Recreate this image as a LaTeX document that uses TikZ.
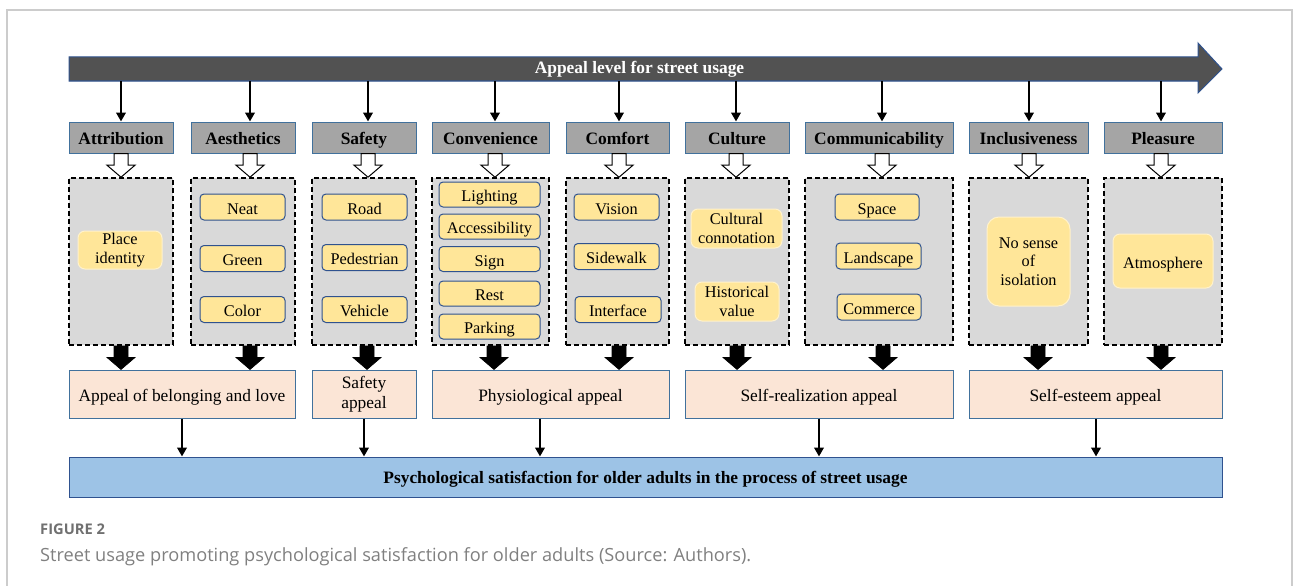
\documentclass[tikz,border=0pt]{standalone}
\usepackage{fontspec}
\setmainfont{Liberation Serif}
\newfontfamily\capfont{Open Sans}
\usetikzlibrary{calc,arrows.meta}

\definecolor{barfill}{HTML}{525252}
\definecolor{darkline}{HTML}{2F528F}
\definecolor{hdrline}{HTML}{41719C}
\definecolor{hdrfill}{HTML}{A5A5A5}
\definecolor{grpfill}{HTML}{D9D9D9}
\definecolor{itemfill}{HTML}{FFE699}
\definecolor{softline}{HTML}{FFF2CC}
\definecolor{appfill}{HTML}{FBE5D6}
\definecolor{endfill}{HTML}{9DC3E6}
\definecolor{framecol}{HTML}{CCCCCC}
\definecolor{capgray}{HTML}{808080}
\definecolor{figgray}{HTML}{707070}

\tikzset{
  hdrbox/.style={draw=hdrline, fill=hdrfill, line width=1pt, minimum height=31pt, inner sep=0pt,
    text height=13pt, text depth=0pt, font=\fontsize{17.4}{19}\selectfont\bfseries},
  grpbox/.style={draw=black, fill=grpfill, line width=1.6pt, dash pattern=on 5pt off 3pt,
    minimum height=167pt, inner sep=0pt},
  cellbox/.style={draw=darkline, fill=itemfill, line width=1pt, rounded corners=4pt, inner sep=0pt,
    align=center, font=\fontsize{16.3}{18.3}\selectfont},
  itembox/.style={cellbox, text height=14pt, text depth=0pt},
  softbox/.style={cellbox, draw=softline, rounded corners=7pt},
  appbox/.style={draw=hdrline, fill=appfill, line width=1pt, minimum height=48pt, inner sep=0pt,
    align=center, font=\fontsize{17.4}{20}\selectfont},
  onerow/.style={text height=14pt, text depth=0pt},
  endbox/.style={draw=darkline, fill=endfill, line width=1pt, minimum height=40pt, inner sep=0pt,
    text height=12pt, text depth=0pt, font=\fontsize{17.4}{19}\selectfont\bfseries},
  link/.style={line width=2.6pt, -{Triangle[width=9.5pt,length=9pt]}},
  hollowarr/.style={draw=black, fill=white, line width=1pt},
  solidarr/.style={draw=black, fill=black, line width=0.6pt}
}

% block arrow between two named nodes, shifted by #4
\newcommand{\blockarrow}[4]{%
  \draw[#1] let \p1=($(#2.south)+(#4,0)$), \p2=(#3.north) in
    (\x1-7,\y1) -- (\x1+7,\y1) -- (\x1+7,\y2+12) -- (\x1+14,\y2+12)
    -- (\x1,\y2) -- (\x1-14,\y2+12) -- (\x1-7,\y2+12) -- cycle;}

\begin{document}
\begin{tikzpicture}[x=1pt,y=-1pt]
\useasboundingbox (0,0) rectangle (1293,586);

% frame
\draw[framecol, line width=1.3pt] (7,586) -- (7,10) -- (1292,10) -- (1292,586);

% top arrow
\draw[darkline, fill=barfill, line width=1pt] (69,57) -- (1198,57) -- (1198,43) -- (1222,69)
  -- (1198,93) -- (1198,81) -- (69,81) -- cycle;
\node[text=white, font=\fontsize{17.4}{19}\selectfont\bfseries, minimum height=24pt, inner sep=0pt,
  text height=10pt, text depth=0pt] (bar) at (639.5,69) {Appeal level for street usage};

% headers
\node[hdrbox, minimum width=104pt] (attr) at (121,137.5) {Attribution};
\node[hdrbox, minimum width=104pt] (aest) at (243,137.5) {Aesthetics};
\node[hdrbox, minimum width=104pt] (safe) at (364,137.5) {Safety};
\node[hdrbox, minimum width=117pt] (conv) at (490.5,137.5) {Convenience};
\node[hdrbox, minimum width=103pt] (comf) at (617.5,137.5) {Comfort};
\node[hdrbox, minimum width=104pt] (cult) at (737,137.5) {Culture};
\node[hdrbox, minimum width=148pt] (comm) at (879,137.5) {Communicability};
\node[hdrbox, minimum width=119pt] (incl) at (1028.5,137.5) {Inclusiveness};
\node[hdrbox, minimum width=118pt] (plea) at (1163,137.5) {Pleasure};

% dashed groups
\node[grpbox, minimum width=104pt] (gattr) at (121,261.5) {};
\node[grpbox, minimum width=104pt] (gaest) at (243,261.5) {};
\node[grpbox, minimum width=104pt] (gsafe) at (364,261.5) {};
\node[grpbox, minimum width=117pt] (gconv) at (490.5,261.5) {};
\node[grpbox, minimum width=103pt] (gcomf) at (617.5,261.5) {};
\node[grpbox, minimum width=104pt] (gcult) at (737,261.5) {};
\node[grpbox, minimum width=148pt] (gcomm) at (879,261.5) {};
\node[grpbox, minimum width=119pt] (gincl) at (1028.5,261.5) {};
\node[grpbox, minimum width=118pt] (gplea) at (1163,261.5) {};

% items
\node[softbox, minimum width=84pt, minimum height=38pt] (place) at (120,250) {Place\\identity};

\node[itembox, minimum width=85pt, minimum height=26pt] (neat) at (242.5,207) {Neat};
\node[itembox, minimum width=85pt, minimum height=26pt] (green) at (242.5,258.5) {Green};
\node[itembox, minimum width=85pt, minimum height=26pt] (color) at (242.5,309.5) {Color};

\node[itembox, minimum width=85pt, minimum height=26pt] (road) at (364.5,207) {Road};
\node[itembox, minimum width=85pt, minimum height=26pt] (ped) at (364.5,257.5) {Pedestrian};
\node[itembox, minimum width=85pt, minimum height=26pt] (veh) at (364.5,309.5) {Vehicle};

\node[itembox, minimum width=101pt, minimum height=25pt] (light) at (489.5,194.5) {Lighting};
\node[itembox, minimum width=101pt, minimum height=25pt] (access) at (489.5,226.5) {Accessibility};
\node[itembox, minimum width=101pt, minimum height=25pt] (sign) at (489.5,259) {Sign};
\node[itembox, minimum width=101pt, minimum height=25pt] (rest) at (489.5,293.5) {Rest};
\node[itembox, minimum width=101pt, minimum height=25pt] (park) at (489.5,326.5) {Parking};

\node[itembox, minimum width=85pt, minimum height=26pt] (vision) at (616.5,207) {Vision};
\node[itembox, minimum width=85pt, minimum height=26pt] (side) at (616.5,256.5) {Sidewalk};
\node[itembox, minimum width=86pt, minimum height=26pt] (inter) at (618,309.5) {Interface};

\node[softbox, minimum width=91pt, minimum height=39pt] (connot) at (736.5,228.5) {Cultural\\connotation};
\node[softbox, minimum width=84pt, minimum height=39pt] (hist) at (737,301.5) {Historical\\value};

\node[itembox, minimum width=84pt, minimum height=26pt] (space) at (877,207) {Space};
\node[itembox, minimum width=85pt, minimum height=26pt] (land) at (878.5,256) {Landscape};
\node[itembox, minimum width=84pt, minimum height=26pt] (commerce) at (879,307) {Commerce};

\node[softbox, rounded corners=12pt, minimum width=83pt, minimum height=89pt] (isol) at (1028.5,261.5)
  {No sense\\of\\isolation};
\node[softbox, onerow, minimum width=100pt, minimum height=54pt] (atmo) at (1163,261) {Atmosphere};

% appeals
\node[appbox, onerow, minimum width=226pt] (belong) at (182,394) {Appeal of belonging and love};
\node[appbox, minimum width=104pt] (safeapp) at (364,394) {Safety\\appeal};
\node[appbox, onerow, minimum width=237pt] (physio) at (550.5,394) {Physiological appeal};
\node[appbox, onerow, minimum width=268pt] (selfreal) at (819,394) {Self-realization appeal};
\node[appbox, onerow, minimum width=253pt] (selfest) at (1095.5,394) {Self-esteem appeal};

% result
\node[endbox, minimum width=1153pt] (sat) at (645.5,477)
  {Psychological satisfaction for older adults in the process of street usage};

% connectors per column
\foreach \c/\a/\da/\db in {attr/belong/0/0, aest/belong/7/7, safe/safeapp/4/3,
    conv/physio/4.5/3.5, comf/physio/1.5/1.5, cult/selfreal/-1/0,
    comm/selfreal/3/4, incl/selfest/0.5/9.5, plea/selfest/-2/-2} {
  \draw[link] let \p1=($(\c.north)+(\da,0)$), \p2=(bar.south) in (\x1,\y2) -- (\x1,\y1);
  \blockarrow{hollowarr}{\c}{g\c}{\da}
  \blockarrow{solidarr}{g\c}{\a}{\db}
}
\foreach \a/\d in {belong/0, safeapp/0, physio/-10.5, selfreal/0, selfest/0.5}
  \draw[link] let \p1=($(\a.south)+(\d,0)$), \p2=(sat.north) in (\x1,\y1) -- (\x1,\y2);

% caption
\node[anchor=base west, inner sep=0pt, text=figgray, font=\capfont\fontsize{14.7}{16}\selectfont\bfseries]
  (fig) at (40,534) {FIGURE 2};
\node[anchor=base west, inner sep=0pt, text=capgray, font=\capfont\fontsize{18.2}{20}\selectfont]
  (cap) at (40,561) {Street usage promoting psychological satisfaction for older adults (Source: Authors).};
\end{tikzpicture}
\end{document}
